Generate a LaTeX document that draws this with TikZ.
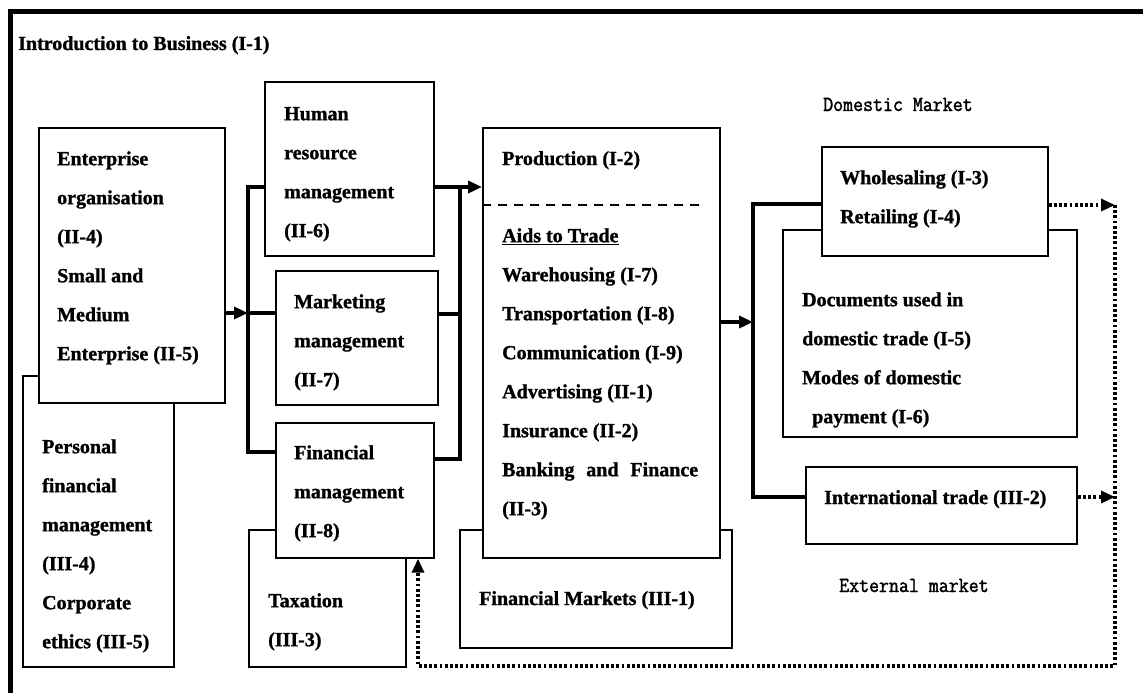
\documentclass[tikz,border=0pt]{standalone}
\usepackage{fontspec}
\setmainfont{Liberation Serif}[BoldFeatures={FakeBold=1.2}]
\newfontfamily\monof{Latin Modern Mono}[FakeBold=1.6,FakeStretch=0.9]
\usetikzlibrary{arrows.meta}
\newcommand\bfnt{\fontsize{20}{39}\selectfont\bfseries}
\newcommand\mfnt{\monof\fontsize{21.5}{24}\selectfont}
\begin{document}
\begin{tikzpicture}[x=1pt,y=-1pt,
 box/.style={draw, line width=1.7pt, fill=white, anchor=north west, inner sep=0pt},
 btxt/.style={anchor=north west, inner sep=0pt, align=left, font=\bfnt, yshift=27.3pt},
 lbl/.style={anchor=base west, inner sep=0pt, font=\bfnt},
 mono/.style={anchor=base west, inner sep=0pt, font=\mfnt},
 conn/.style={line width=3.6pt},
 tip/.style={-{Triangle[length=14pt,width=12pt]}},
 dot/.style={line width=3.2pt, dash pattern=on 2.8pt off 2.4pt},
 dsh/.style={line width=1.7pt, dash pattern=on 9pt off 7pt}]
\useasboundingbox (0,0) rectangle (1143,693);
\fill[white] (0,0) rectangle (1143,693);
% frame
\draw[line width=5pt] (10,693) -- (10,12) -- (1143,12);
\node[lbl] (title) at (18,50) {Introduction to Business (I-1)};
% boxes (back to front)
\node[box, minimum width=151pt, minimum height=291pt] (B) at (22,375) {};
\node[box, minimum width=186pt, minimum height=275pt] (A) at (38,127) {};
\node[box, minimum width=169pt, minimum height=174pt] (HR) at (264,81) {};
\node[box, minimum width=162pt, minimum height=134pt] (MM) at (275,270) {};
\node[box, minimum width=157pt, minimum height=137pt] (TX) at (248,529) {};
\node[box, minimum width=158pt, minimum height=135pt] (FM) at (275,422) {};
\node[box, minimum width=272pt, minimum height=118pt] (FMK) at (459,529) {};
\node[box, minimum width=237pt, minimum height=430pt] (P) at (482,127) {};
\node[box, minimum width=294pt, minimum height=207pt] (D) at (782,229) {};
\node[box, minimum width=226pt, minimum height=109pt] (W) at (821,146) {};
\node[box, minimum width=271pt, minimum height=77pt] (I) at (805,466) {};
% dashed separator in production box
\coordinate (pd) at (703,205);
\draw[dsh] (pd -| P.west) -- (pd);
% left bus
\coordinate (lb1) at (248,187);
\coordinate (lb2) at (248,452);
\coordinate (lbm) at (248,313);
\draw[conn] (lb1 -| HR.west) -- (lb1) -- (lb2) -- (lb2 -| FM.west);
\draw[conn,tip] (lbm -| A.east) -- (lbm);
\draw[conn] (lbm) -- (lbm -| MM.west);
% right bus
\coordinate (rb1) at (460,187);
\coordinate (rb2) at (460,459);
\coordinate (rbm) at (460,314);
\draw[conn] (rb1 -| HR.east) -- (rb1) -- (rb2) -- (rb2 -| FM.east);
\draw[conn] (rbm -| MM.east) -- (rbm);
\draw[conn,tip] (rb1) -- (rb1 -| P.west);
% market bus
\coordinate (dt) at (753,204);
\coordinate (db) at (753,322);
\coordinate (dbot) at (753,497);
\draw[conn] (dt -| W.west) -- (dt) -- (dbot) -- (dbot -| I.west);
\draw[conn,tip] (db -| P.east) -- (db);
% dotted feedback
\coordinate (rt) at (1115,205);
\coordinate (ri) at (1115,497);
\coordinate (rbt) at (1115,666);
\coordinate (lbt) at (418,666);
\draw[dot,tip] (rt -| W.east) -- (rt);
\draw[dot,tip] (ri -| I.east) -- (ri);
\draw[dot,tip] (rt) -- (rbt) -- (lbt) -- (lbt |- FM.south);
% texts
\node[btxt] (tA) at (57,165) {\strut Enterprise\\organisation\\(II-4)\\Small and\\Medium\\Enterprise (II-5)};
\node[btxt] (tB) at (42,453) {\strut Personal\\financial\\management\\(III-4)\\Corporate\\ethics (III-5)};
\node[btxt] (tHR) at (284,120) {\strut Human\\resource\\management\\(II-6)};
\node[btxt] (tMM) at (294,308) {\strut Marketing\\management\\(II-7)};
\node[btxt] (tFM) at (294,459) {\strut Financial\\management\\(II-8)};
\node[btxt] (tTX) at (268,607) {\strut Taxation\\(III-3)};
\node[lbl] (tP) at (502,165) {Production (I-2)};
\node[btxt] (tAid) at (502,242) {\strut \underline{Aids to Trade}\\Warehousing (I-7)\\Transportation (I-8)\\Communication (I-9)\\Advertising (II-1)\\Insurance (II-2)\\\makebox[196pt][s]{Banking and Finance}\\(II-3)};
\node[lbl] (tFMK) at (479,605) {Financial Markets (III-1)};
\node[btxt] (tW) at (840,184) {\strut Wholesaling (I-3)\\Retailing (I-4)};
\node[btxt] (tD) at (802,306) {\strut Documents used in\\domestic trade (I-5)\\Modes of domestic\\\hspace*{10pt}payment (I-6)};
\node[lbl] (tI) at (824,504) {International trade (III-2)};
\node[mono] (dom) at (823,111) {Domestic Market};
\node[mono] (ext) at (839,592) {External market};
\end{tikzpicture}
\end{document}
